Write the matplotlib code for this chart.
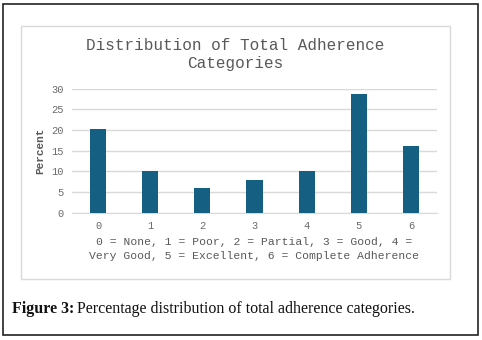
import numpy as np
from matplotlib import pyplot as plt
from matplotlib.patches import Rectangle

categories = ["0", "1", "2", "3", "4", "5", "6"]
percent = [20.3, 10.0, 6.0, 8.0, 10.0, 28.6, 16.2]
yticks = [0, 5, 10, 15, 20, 25, 30]

W, H = 482, 340
fig = plt.figure(figsize=(W/100, H/100), dpi=100)
fig.patch.set_facecolor("white")

# outer frame and chart box
fig.add_artist(Rectangle((3/W, 5/H), 475/W, 331/H, transform=fig.transFigure,
                         fill=False, edgecolor="#222222", linewidth=1.2))
fig.add_artist(Rectangle((21/W, 1-279/H), 429/W, 253/H, transform=fig.transFigure,
                         fill=False, edgecolor="#d9d9d9", linewidth=1.0))

mono = "Liberation Mono"
grey = "#595959"

ax = fig.add_axes([72/W, 1-212.7/H, 365/W, 124/H])
x = np.arange(len(categories))
ax.bar(x, percent, width=0.31, color="#156082", zorder=3)
ax.set_xlim(-0.5, 6.5)
ax.set_ylim(0, 30)
ax.set_yticks(yticks)
ax.set_xticks(x)
ax.set_xticklabels(categories)
ax.grid(axis="y", color="#d9d9d9", linewidth=1.0, zorder=0)
for s in ["top", "right", "left"]:
    ax.spines[s].set_visible(False)
ax.spines["bottom"].set_color("#d9d9d9")
ax.tick_params(length=0, labelsize=7.5, labelcolor="#6a6a6a", pad=6)
for lab in ax.get_xticklabels() + ax.get_yticklabels():
    lab.set_family(mono)
ax.set_ylabel("Percent", family=mono, fontsize=8, color=grey, fontweight="bold", labelpad=4)

fig.text(235/W, 1-54.5/H, "Distribution of Total Adherence\nCategories", ha="center", va="center",
         family=mono, fontsize=11.5, color=grey, linespacing=1.25)
fig.text(254/W, 1-249/H, "0 = None, 1 = Poor, 2 = Partial, 3 = Good, 4 =\nVery Good, 5 = Excellent, 6 = Complete Adherence",
         ha="center", va="center", family=mono, fontsize=8.2, color=grey, linespacing=1.45)

t1 = fig.text(12/W, 1-309/H, "Figure 3:", ha="left", va="center", family="Liberation Serif",
              fontsize=11.5, fontweight="bold", color="#111111")
fig.canvas.draw()
bb = t1.get_window_extent()
fig.text((bb.x1 + 3)/W, 1-309/H, "Percentage distribution of total adherence categories.",
         ha="left", va="center", family="Liberation Serif", fontsize=11.5, color="#111111")

fig.savefig("out.png", dpi=100)
